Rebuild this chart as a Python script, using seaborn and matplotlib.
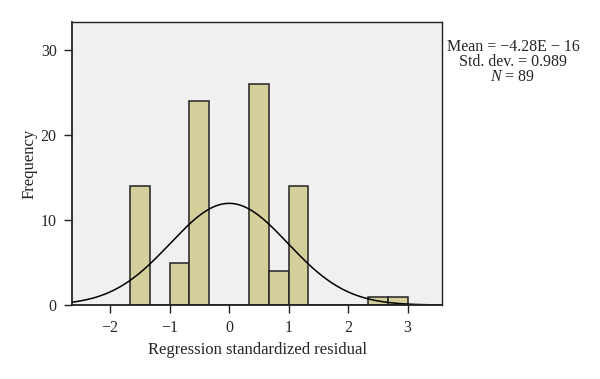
import numpy as np
import pandas as pd
import matplotlib
matplotlib.use('Agg')
import matplotlib.pyplot as plt
import seaborn as sns

sns.set_style('white')
plt.rcParams['font.family'] = ['Liberation Serif', 'DejaVu Serif']
plt.rcParams['mathtext.fontset'] = 'custom'
plt.rcParams['mathtext.rm'] = 'Liberation Serif'
plt.rcParams['mathtext.it'] = 'Liberation Serif:italic'

# histogram bins (width 1/3) and counts
bin_edges = [k / 3.0 for k in range(-5, 10)]
counts = [14, 0, 5, 24, 0, 0, 26, 4, 14, 0, 0, 0, 1, 1]

# fitted normal curve statistics
mean = -4.28e-16
std_dev = 0.989
n_obs = 89

stats_lines = ['Mean = \u22124.28E \u2212 16', 'Std. dev. = 0.989', r'$\it{N}$ = 89']

edges = np.array(bin_edges)
centers = (edges[:-1] + edges[1:]) / 2
df = pd.DataFrame({'x': centers, 'count': counts})

fig = plt.figure(figsize=(6, 3.79), dpi=100)
ax = fig.add_axes([0.12, 0.195, 0.617, 0.747])
ax.set_facecolor('#f0f0f0')

sns.histplot(data=df, x='x', weights='count', bins=bin_edges, ax=ax,
             color='#d4cf9b', edgecolor='#222222', linewidth=1.1, alpha=1)

xs = np.linspace(-2.64, 3.58, 300)
width = edges[1] - edges[0]
ys = n_obs * width / (std_dev * np.sqrt(2 * np.pi)) * np.exp(-0.5 * ((xs - mean) / std_dev) ** 2)
sns.lineplot(x=xs, y=ys, ax=ax, color='black', linewidth=1.1)

ax.set_xlim(-2.64, 3.58)
ax.set_ylim(0, 33.3)
ax.set_xticks([-2, -1, 0, 1, 2, 3])
ax.set_xticklabels(['\u22122', '\u22121', '0', '1', '2', '3'])
ax.set_yticks([0, 10, 20, 30])
ax.tick_params(axis='both', direction='out', length=6, width=1, labelsize=11.5,
               bottom=True, left=True, color='#222222')
ax.tick_params(axis='x', pad=5)
ax.tick_params(axis='y', pad=5)
ax.set_xlabel('Regression standardized residual', fontsize=12, labelpad=4)
ax.set_ylabel('Frequency', fontsize=12, labelpad=2.5)
for s in ax.spines.values():
    s.set_color('#222222')
    s.set_linewidth(1.0)
ax.spines['left'].set_linewidth(1.3)
ax.spines['bottom'].set_linewidth(1.3)

for i, line in enumerate(stats_lines):
    fig.text(0.855, 0.876 - i * 0.04, line, ha='center', va='center', fontsize=11.5)

fig.savefig('out.png', dpi=100)
